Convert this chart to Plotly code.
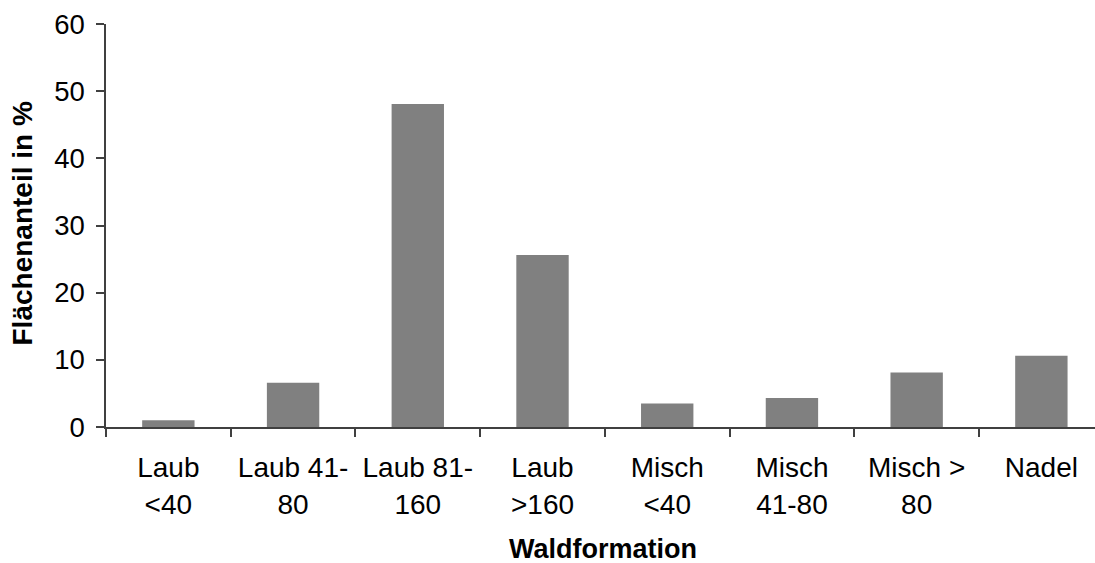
import plotly.graph_objects as go

categories = ["Laub<br><40", "Laub 41-<br>80", "Laub 81-<br>160", "Laub<br>>160",
              "Misch<br><40", "Misch<br>41-80", "Misch ><br>80", "Nadel<br> "]
values = [1.0, 6.6, 48.1, 25.6, 3.5, 4.3, 8.1, 10.6]
y_ticks = [0, 10, 20, 30, 40, 50, 60]

axis_color = "#404040"
font_family = "Liberation Sans, Arial, sans-serif"

fig = go.Figure(go.Bar(x=categories, y=values, marker=dict(color="#808080", line=dict(width=0))))

fig.update_layout(
    width=1095, height=563,
    margin=dict(l=106, r=0, t=24, b=136),
    paper_bgcolor="white", plot_bgcolor="white",
    bargap=0.58,
    showlegend=False,
    font=dict(family=font_family, color="black", size=28),
)
fig.update_xaxes(
    type="category", range=[-0.5, 7.43], automargin=False,
    showline=True, linecolor=axis_color, linewidth=1.5,
    ticks="outside", tickson="boundaries", ticklen=8, tickcolor=axis_color, tickwidth=1.5,
    tickfont=dict(size=28), ticklabelstandoff=15,
    showgrid=False, zeroline=False,
)
fig.update_yaxes(
    range=[0, 60], tickvals=y_ticks, automargin=False,
    showline=True, linecolor=axis_color, linewidth=1.5,
    ticks="outside", ticklen=8, tickcolor=axis_color, tickwidth=1.5,
    tickfont=dict(size=27.5), ticklabelstandoff=6,
    showgrid=False, zeroline=False,
)
fig.add_annotation(text="<b>Waldformation</b>", xref="paper", yref="paper",
                   x=0.5, y=0, xshift=2, yshift=-122, xanchor="center", yanchor="middle",
                   showarrow=False, font=dict(size=27))
fig.add_annotation(text="<b>Flächenanteil in %</b>", xref="paper", yref="paper",
                   x=0, y=0.5, xshift=-84, yshift=2, xanchor="center", yanchor="middle",
                   textangle=-90, showarrow=False, font=dict(size=28))

fig.write_html("out.html", config={"displayModeBar": False},
               post_script="document.body.style.margin='0';document.body.style.overflow='hidden';")
